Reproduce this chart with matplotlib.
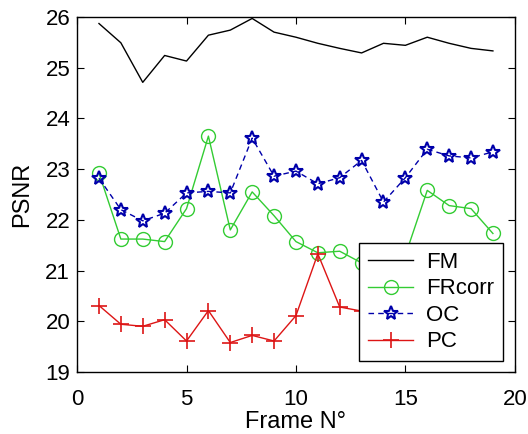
import numpy as np
import matplotlib
matplotlib.use('Agg')
import matplotlib.pyplot as plt

plt.rcParams['font.family'] = ['Liberation Sans', 'DejaVu Sans']

frames = np.arange(1, 20)
fm = [25.87, 25.49, 24.71, 25.24, 25.13, 25.64, 25.74, 25.97, 25.70, 25.60,
      25.48, 25.38, 25.29, 25.48, 25.44, 25.60, 25.48, 25.38, 25.33]
frcorr = [22.92, 21.62, 21.62, 21.57, 22.22, 23.65, 21.80, 22.55, 22.08, 21.57,
          21.35, 21.38, 21.15, 21.35, 21.30, 22.58, 22.28, 22.22, 21.73]
oc = [22.82, 22.20, 21.98, 22.13, 22.53, 22.56, 22.53, 23.61, 22.86, 22.96,
      22.71, 22.83, 23.17, 22.35, 22.83, 23.39, 23.26, 23.22, 23.34]
pc = [20.31, 19.94, 19.90, 20.03, 19.61, 20.21, 19.58, 19.72, 19.61, 20.11,
      21.33, 20.28, 20.20, 20.05, 19.90, 20.10, 20.00, 19.95, 20.05]

fig = plt.figure(figsize=(5.28, 4.34), dpi=100)
ax = fig.add_axes([0.146, 0.143, 0.829, 0.818])

ax.plot(frames, fm, color='black', lw=1.0, label='FM')
ax.plot(frames, frcorr, color='#33cc33', lw=1.0, marker='o', ms=10,
        mfc='none', mew=1.0, label='FRcorr')
ax.plot(frames, oc, color='#0000aa', lw=1.0, ls=(0, (4, 3)), marker='*', ms=10,
        mfc='none', mew=1.5, label='OC')
ax.plot(frames, pc, color='#dd1515', lw=1.0, marker='+', ms=12, mew=1.2,
        label='PC')

ax.set_xlim(0, 20)
ax.set_ylim(19, 26)
ax.set_xticks([0, 5, 10, 15, 20])
ax.set_yticks(range(19, 27))
ax.tick_params(axis='both', direction='in', top=True, right=True, labelsize=16, length=5)
ax.tick_params(axis='x', pad=12)
ax.tick_params(axis='y', pad=5)
for s in ax.spines.values():
    s.set_linewidth(1.0)
ax.set_xlabel('Frame N°', fontsize=17, labelpad=1)
ax.set_ylabel('PSNR', fontsize=17, labelpad=9)

leg = ax.legend(loc='lower right', bbox_to_anchor=(0.973, 0.03), borderaxespad=0,
                fontsize=16, fancybox=False, framealpha=1, edgecolor='black',
                handlelength=2.0, borderpad=0.4, labelspacing=0.25,
                handletextpad=0.6)
leg.get_frame().set_linewidth(1.0)

fig.savefig('out.png', dpi=100)
